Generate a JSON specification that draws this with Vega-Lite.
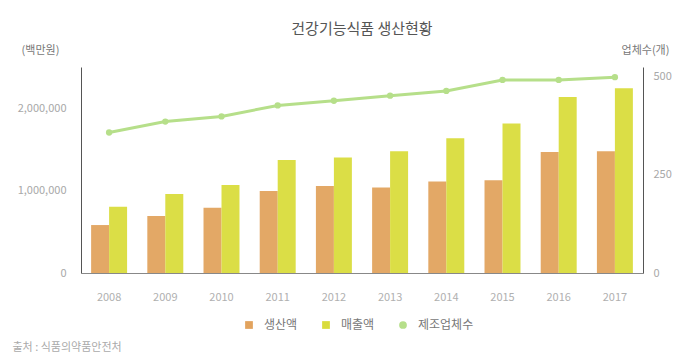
{
  "$schema": "https://vega.github.io/schema/vega-lite/v6.json",
  "width": 562,
  "height": 206,
  "autosize": {"type": "none"},
  "padding": {"left": 81, "top": 67, "right": 51, "bottom": 91},
  "background": "white",
  "title": {
    "text": "건강기능식품 생산현황",
    "font": "Noto Sans CJK KR",
    "fontSize": 15,
    "fontWeight": "normal",
    "color": "#555555",
    "anchor": "middle",
    "offset": 7
  },
  "config": {
    "view": {"stroke": null},
    "font": "Noto Sans CJK KR",
    "axis": {"labelFont": "Noto Sans CJK KR", "titleFont": "Noto Sans CJK KR", "grid": false, "ticks": false},
    "legend": {"labelFont": "Noto Sans CJK KR"}
  },
  "data": {
    "values": [
      {"year": "2008", "series": "생산액", "value": 582000},
      {"year": "2009", "series": "생산액", "value": 691000},
      {"year": "2010", "series": "생산액", "value": 792000},
      {"year": "2011", "series": "생산액", "value": 994000},
      {"year": "2012", "series": "생산액", "value": 1055000},
      {"year": "2013", "series": "생산액", "value": 1039000},
      {"year": "2014", "series": "생산액", "value": 1111000},
      {"year": "2015", "series": "생산액", "value": 1127000},
      {"year": "2016", "series": "생산액", "value": 1467000},
      {"year": "2017", "series": "생산액", "value": 1479000},
      {"year": "2008", "series": "매출액", "value": 804000},
      {"year": "2009", "series": "매출액", "value": 958000},
      {"year": "2010", "series": "매출액", "value": 1067000},
      {"year": "2011", "series": "매출액", "value": 1370000},
      {"year": "2012", "series": "매출액", "value": 1402000},
      {"year": "2013", "series": "매출액", "value": 1479000},
      {"year": "2014", "series": "매출액", "value": 1636000},
      {"year": "2015", "series": "매출액", "value": 1814000},
      {"year": "2016", "series": "매출액", "value": 2137000},
      {"year": "2017", "series": "매출액", "value": 2242000},
      {"year": "2008", "series": "제조업체수", "value": 358},
      {"year": "2009", "series": "제조업체수", "value": 386},
      {"year": "2010", "series": "제조업체수", "value": 399},
      {"year": "2011", "series": "제조업체수", "value": 427},
      {"year": "2012", "series": "제조업체수", "value": 439},
      {"year": "2013", "series": "제조업체수", "value": 452},
      {"year": "2014", "series": "제조업체수", "value": 464},
      {"year": "2015", "series": "제조업체수", "value": 492},
      {"year": "2016", "series": "제조업체수", "value": 492},
      {"year": "2017", "series": "제조업체수", "value": 499}
    ]
  },
  "encoding": {
    "x": {
      "field": "year",
      "type": "ordinal",
      "scale": {"paddingInner": 0.36, "paddingOuter": 0.18},
      "axis": {
        "labelAngle": 0,
        "labelColor": "#b0b0b0",
        "labelFontSize": 11,
        "labelPadding": 18,
        "domainColor": "#888888",
        "title": "출처 : 식품의약품안전처",
        "titleFontSize": 11,
        "titleFontWeight": "normal",
        "titleColor": "#aaaaaa",
        "titleAlign": "left",
        "titleBaseline": "middle",
        "titleAnchor": "start",
        "titleX": -69,
        "titleY": 74
      }
    }
  },
  "layer": [
    {
      "transform": [{"filter": "datum.series !== '제조업체수'"}],
      "mark": {"type": "bar", "opacity": 0.95},
      "encoding": {
        "xOffset": {"field": "series", "type": "nominal", "sort": ["생산액", "매출액"], "scale": {"paddingInner": 0}},
        "y": {
          "field": "value",
          "type": "quantitative",
          "scale": {"domain": [0, 2500000], "nice": false},
          "axis": {
            "orient": "left",
            "values": [0, 1000000, 2000000],
            "format": ",d",
            "labelColor": "#a8a8a8",
            "labelFontSize": 11,
            "labelPadding": 15,
            "domainColor": "#555555",
            "title": "(백만원)",
            "titleAngle": 0,
            "titleFontSize": 11,
            "titleFontWeight": "normal",
            "titleColor": "#777777",
            "titleAlign": "center",
            "titleBaseline": "middle",
            "titleX": -41,
            "titleY": -17
          }
        },
        "color": {
          "field": "series",
          "type": "nominal",
          "scale": {"domain": ["생산액", "매출액", "제조업체수"], "range": ["#e2a35e", "#d9dc3c", "#b6df8a"]},
          "legend": {
            "title": null,
            "orient": "none",
            "direction": "horizontal",
            "legendX": 162,
            "legendY": 252,
            "labelFontSize": 12,
            "labelColor": "#777777",
            "columnPadding": 22,
            "labelOffset": 9,
            "symbolSize": 60,
            "symbolOpacity": 0.75
          }
        }
      }
    },
    {
      "transform": [{"filter": "datum.series === '제조업체수'"}],
      "encoding": {
        "y": {
          "field": "value",
          "type": "quantitative",
          "scale": {"domain": [0, 525], "nice": false},
          "axis": {
            "orient": "right",
            "values": [0, 250, 500],
            "labelColor": "#a8a8a8",
            "labelFontSize": 11,
            "labelPadding": 10,
            "domainColor": "#555555",
            "title": "업체수(개)",
            "titleAngle": 0,
            "titleFontSize": 11,
            "titleFontWeight": "normal",
            "titleColor": "#777777",
            "titleAlign": "center",
            "titleBaseline": "middle",
            "titleX": 2,
            "titleY": -17
          }
        }
      },
      "layer": [
        {
          "mark": {"type": "line", "color": "#b6df8a", "strokeWidth": 3}
        },
        {
          "mark": {"type": "point", "filled": true, "opacity": 1, "size": 40},
          "encoding": {
            "color": {"field": "series", "type": "nominal"},
            "shape": {
              "field": "series",
              "type": "nominal",
              "scale": {"domain": ["생산액", "매출액", "제조업체수"], "range": ["square", "square", "circle"]}
            }
          }
        }
      ]
    }
  ],
  "resolve": {"scale": {"y": "independent"}}
}
